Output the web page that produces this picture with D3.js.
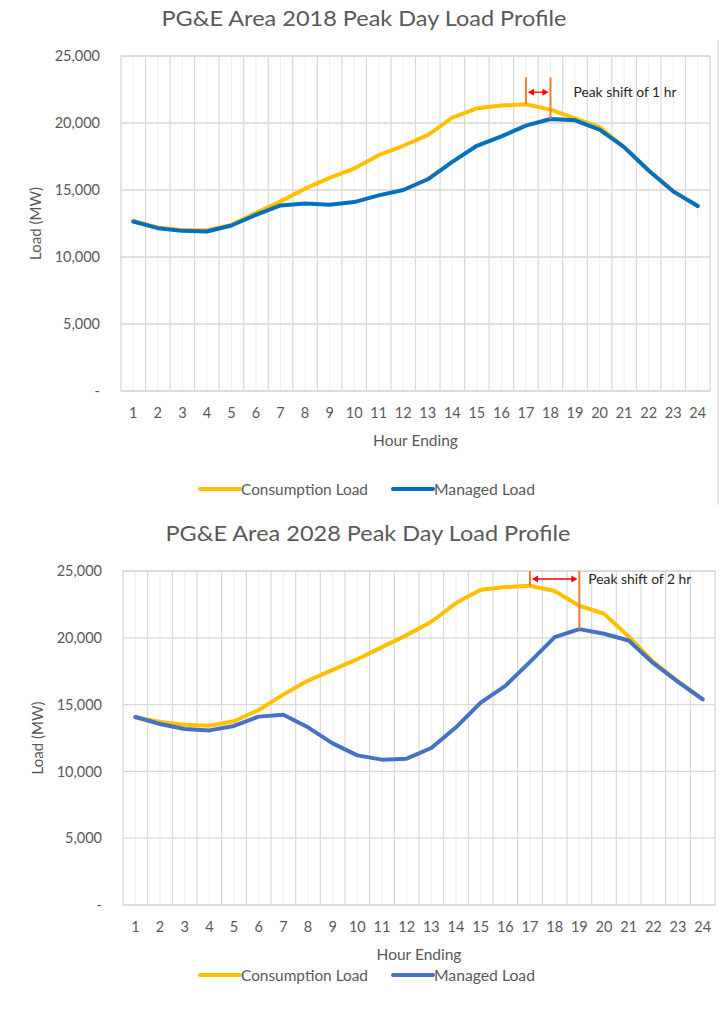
<!DOCTYPE html>
<html>
<head>
<meta charset="utf-8">
<script src="https://cdn.jsdelivr.net/npm/d3@7"></script>
<style>
  body { margin: 0; background: #fff; }
  svg text { font-family: Lato, "Open Sans", "DejaVu Sans", sans-serif; fill: #595959; }
</style>
</head>
<body>
<div id="chart"></div>
<script>
// hour ending categories
const hours = [1, 2, 3, 4, 5, 6, 7, 8, 9, 10, 11, 12, 13, 14, 15, 16, 17, 18, 19, 20, 21, 22, 23, 24];
const yTicks = [0, 5000, 10000, 15000, 20000, 25000];

// 2018 peak day (MW)
const consumption2018 = [12700, 12200, 12000, 12000, 12400, 13300, 14150, 15100, 15900, 16600, 17600, 18300,
  19100, 20400, 21100, 21300, 21400, 21000, 20350, 19700, 18200, 16450, 14900, 13800];
const managed2018 = [12650, 12150, 11950, 11900, 12350, 13150, 13850, 14000, 13900, 14100, 14600, 15000,
  15800, 17100, 18300, 19000, 19800, 20300, 20200, 19500, 18200, 16450, 14900, 13800];

// 2028 peak day (MW)
const consumption2028 = [14070, 13700, 13500, 13420, 13750, 14600, 15750, 16800, 17600, 18400, 19300, 20200,
  21200, 22600, 23600, 23800, 23900, 23500, 22400, 21800, 20100, 18200, 16750, 15400];
const managed2028 = [14070, 13550, 13170, 13070, 13400, 14100, 14240, 13300, 12100, 11200, 10880, 10950,
  11750, 13300, 15150, 16400, 18200, 20050, 20650, 20300, 19800, 18100, 16700, 15400];

// peak shift annotations: [consumption peak hour, managed peak hour]
const peakShift2018 = [17, 18];
const peakShift2028 = [17, 19];

const W = 727, H = 1025;
const svg = d3.select("#chart").append("svg")
  .attr("width", W).attr("height", H);

function drawChart(cfg) {
  const g = svg.append("g");

  const x = d3.scaleBand().domain(hours).range([cfg.left, cfg.right]).padding(0);
  const y = d3.scaleLinear().domain([0, 25000]).range([cfg.bottom, cfg.top]);
  const bw = x.bandwidth();
  const cx = h => x(h) + bw / 2;

  // minor vertical grid at category centres
  g.selectAll(".minor").data(hours).enter().append("line")
    .attr("x1", d => cx(d)).attr("x2", d => cx(d))
    .attr("y1", cfg.top).attr("y2", cfg.bottom)
    .attr("stroke", "#efefef").attr("stroke-width", 1);

  // major vertical grid at category edges
  g.selectAll(".major").data(hours.slice(1)).enter().append("line")
    .attr("x1", d => x(d)).attr("x2", d => x(d))
    .attr("y1", cfg.top).attr("y2", cfg.bottom)
    .attr("stroke", "#d9d9d9").attr("stroke-width", 1.2);

  g.selectAll(".hgrid").data(yTicks).enter().append("line")
    .attr("x1", cfg.left).attr("x2", cfg.right)
    .attr("y1", d => y(d)).attr("y2", d => y(d))
    .attr("stroke", "#d9d9d9").attr("stroke-width", 1.3);

  g.append("rect")
    .attr("x", cfg.left).attr("y", cfg.top)
    .attr("width", cfg.right - cfg.left).attr("height", cfg.bottom - cfg.top)
    .attr("fill", "none").attr("stroke", "#d9d9d9").attr("stroke-width", 1.3);

  // axes
  const yAxis = g.append("g")
    .attr("transform", `translate(${cfg.left - 18},0)`)
    .call(d3.axisLeft(y).tickValues(yTicks).tickSize(0)
      .tickFormat(v => v === 0 ? "-" : d3.format(",")(v)));
  yAxis.select(".domain").remove();
  yAxis.selectAll("text").attr("font-size", 14.5).attr("fill", "#595959")
    .style("font-family", "Lato, sans-serif");

  const xAxis = g.append("g")
    .attr("transform", `translate(0,${cfg.bottom + 14})`)
    .call(d3.axisBottom(x).tickSize(0));
  xAxis.select(".domain").remove();
  xAxis.selectAll("text").attr("font-size", 14.5).attr("fill", "#595959")
    .style("font-family", "Lato, sans-serif");

  g.append("text")
    .attr("x", cfg.titleX).attr("y", cfg.top - 30)
    .attr("text-anchor", "middle").attr("font-size", 22)
    .attr("textLength", 405).attr("lengthAdjust", "spacingAndGlyphs")
    .text(cfg.title);

  g.append("text")
    .attr("x", (cfg.left + cfg.right) / 2).attr("y", cfg.bottom + 55)
    .attr("text-anchor", "middle").attr("font-size", 15.5)
    .text("Hour Ending");

  g.append("text")
    .attr("transform", `translate(${cfg.left - 80},${(cfg.top + cfg.bottom) / 2}) rotate(-90)`)
    .attr("text-anchor", "middle").attr("font-size", 15)
    .text("Load (MW)");

  // series
  const line = d3.line()
    .x((d, i) => cx(hours[i]))
    .y(d => y(d));

  const series = [
    { name: "Consumption Load", values: cfg.consumption, color: "#FFC000" },
    { name: "Managed Load", values: cfg.managed, color: cfg.blue }
  ];

  g.selectAll(".series").data(series).enter().append("path")
    .attr("d", d => line(d.values))
    .attr("fill", "none")
    .attr("stroke", d => d.color)
    .attr("stroke-width", 4)
    .attr("stroke-linejoin", "round")
    .attr("stroke-linecap", "round");

  // peak shift annotation
  const [h0, h1] = cfg.shift;
  const v0 = cfg.consumption[hours.indexOf(h0)];
  const v1 = cfg.managed[hours.indexOf(h1)];
  g.append("line")
    .attr("x1", cx(h0)).attr("x2", cx(h0))
    .attr("y1", y(cfg.markTop)).attr("y2", y(v0))
    .attr("stroke", "#ED7D31").attr("stroke-width", 2);
  g.append("line")
    .attr("x1", cx(h1)).attr("x2", cx(h1))
    .attr("y1", y(cfg.markTop)).attr("y2", y(v1))
    .attr("stroke", "#ED7D31").attr("stroke-width", 2);

  const ay = y(cfg.arrowAt);
  g.append("line")
    .attr("x1", cx(h0) + 3).attr("x2", cx(h1) - 3)
    .attr("y1", ay).attr("y2", ay)
    .attr("stroke", "#FF0000").attr("stroke-width", 1.3);
  const head = 5;
  g.append("path")
    .attr("d", `M${cx(h0) + 2},${ay} l${head + 1},-${head - 1.5} v${2 * head - 3} Z`)
    .attr("fill", "#FF0000");
  g.append("path")
    .attr("d", `M${cx(h1) - 2},${ay} l-${head + 1},-${head - 1.5} v${2 * head - 3} Z`)
    .attr("fill", "#FF0000");

  g.append("text")
    .attr("x", cx(h1) + cfg.noteDx).attr("y", ay + 4.5)
    .attr("font-size", cfg.noteSize)
    .attr("textLength", 103).attr("lengthAdjust", "spacingAndGlyphs")
    .style("fill", "#262626")
    .text(cfg.note);

  // legend
  const lg = g.append("g").attr("transform", `translate(0,${cfg.legendY})`);
  const items = [
    { s: series[0], x: 200, w: 127 },
    { s: series[1], x: 393, w: 101 }
  ];
  items.forEach(it => {
    lg.append("line")
      .attr("x1", it.x).attr("x2", it.x + 40)
      .attr("y1", 0).attr("y2", 0)
      .attr("stroke", it.s.color).attr("stroke-width", 4)
      .attr("stroke-linecap", "round");
    lg.append("text")
      .attr("x", it.x + 41).attr("y", 5.5)
      .attr("font-size", 15.5)
      .attr("textLength", it.w).attr("lengthAdjust", "spacingAndGlyphs")
      .text(it.s.name);
  });
}

drawChart({
  title: "PG&E Area 2018 Peak Day Load Profile", titleX: 364,
  left: 121, right: 710, top: 56, bottom: 391,
  consumption: consumption2018, managed: managed2018, blue: "#0070C0",
  shift: peakShift2018, markTop: 23400, arrowAt: 22300,
  note: "Peak shift of 1 hr", noteDx: 23, noteSize: 13,
  legendY: 489
});

drawChart({
  title: "PG&E Area 2028 Peak Day Load Profile", titleX: 368,
  left: 123, right: 715, top: 571, bottom: 905,
  consumption: consumption2028, managed: managed2028, blue: "#4472C4",
  shift: peakShift2028, markTop: 25000, arrowAt: 24400,
  note: "Peak shift of 2 hr", noteDx: 9, noteSize: 14,
  legendY: 975
});

// outer frame edge of the upper chart
svg.append("line")
  .attr("x1", 718).attr("x2", 718).attr("y1", 40).attr("y2", 505)
  .attr("stroke", "#e3e3e3").attr("stroke-width", 1.5);
</script>
</body>
</html>
